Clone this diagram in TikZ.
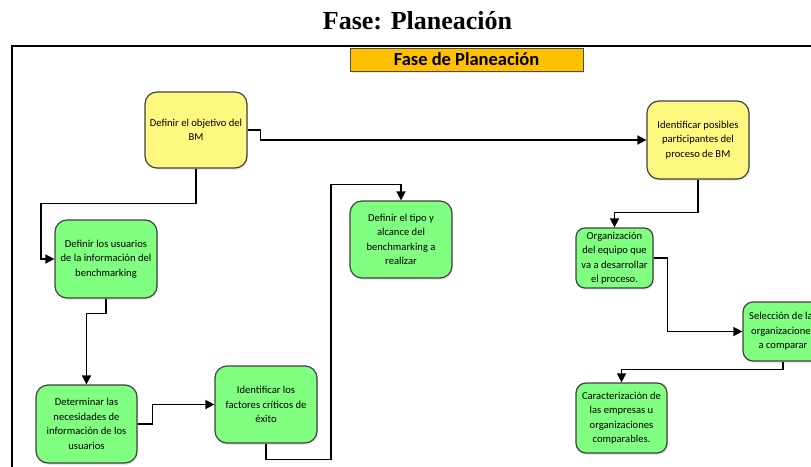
\documentclass[tikz,border=0pt]{standalone}
\usepackage{fontspec}
\setmainfont{Carlito}
\newfontfamily\titlefont{Liberation Serif}
\usetikzlibrary{arrows.meta,shadows}
\begin{document}
\begin{tikzpicture}[x=1pt,y=-1pt,
  box/.style={draw=black!75, line width=1.2pt, rounded corners=12pt, align=center,
    inner sep=0pt, font=\fontsize{10.6}{14.5}\selectfont,
    drop shadow={shadow xshift=1pt, shadow yshift=-2pt, opacity=0.25, fill=gray!70}},
  ybox/.style={box, fill=yellow!50},
  gbox/.style={box, fill=green!50},
  conn/.style={line width=1.5pt, -{Triangle[length=9pt,width=9pt]}}]
\useasboundingbox (0,0) rectangle (811,466);
% title
\node[font=\titlefont\bfseries\fontsize{26}{30}\selectfont, anchor=base] (title) at (417.5,29) {Fase: Planeación};
% frame
\draw[line width=2pt] (11.5,470) -- (11.5,45.5) -- (815,45.5);
% header box
\node[draw=black!70, fill={rgb,255:red,255;green,192;blue,0}, minimum width=233pt, minimum height=23pt,
  inner sep=0pt, font=\bfseries\fontsize{18.5}{20}\selectfont,
  drop shadow={shadow xshift=1pt, shadow yshift=-2pt, opacity=0.25, fill=gray!70}] (hdr) at (466.5,59.5) {Fase de Planeación};
% nodes
\node[ybox, minimum width=102pt, minimum height=76pt] (obj) at (196,130) {Definir el objetivo del\\BM};
\node[ybox, minimum width=102pt, minimum height=78pt] (ident) at (698,140) {Identificar posibles\\participantes del\\proceso de BM};
\node[gbox, minimum width=102pt, minimum height=78pt] (usu) at (106,259) {Definir los usuarios\\de la información del\\benchmarking};
\node[gbox, minimum width=102pt, minimum height=77pt] (tipo) at (401,239.5) {Definir el tipo y\\alcance del\\benchmarking a\\realizar};
\node[gbox, minimum width=101pt, minimum height=78pt] (det) at (86.5,424) {Determinar las\\necesidades de\\información de los\\usuarios};
\node[gbox, minimum width=102pt, minimum height=77pt] (fac) at (266,404.5) {Identificar los\\factores críticos de\\éxito};
\node[gbox, rounded corners=9pt, minimum width=77pt, minimum height=60pt] (org) at (614.5,258) {Organización\\del equipo que\\va a desarrollar\\el proceso.};
\node[gbox, rounded corners=10pt, minimum width=80pt, minimum height=59pt] (sel) at (783,331.5) {Selección de las\\organizaciones\\a comparar};
\node[gbox, rounded corners=10pt, minimum width=91pt, minimum height=70pt] (car) at (621.5,418) {Caracterización de\\las empresas u\\organizaciones\\comparables.};
% connectors
\draw[conn] (obj.east) -- ++(13,0) |- (ident.west);
\draw[conn] (obj.south) -- ++(0,35) -- ++(-155,0) |- (usu.west);
\draw[conn] (usu.south) -- ++(0,15) -| (det.north);
\draw[conn] (det.east) -- ++(15,0) |- (fac.west);
\draw[conn] (fac.south) -- ++(0,16) -- ++(65,0) -- ++(0,-275) -| (tipo.north);
\draw[conn] (ident.south) -- ++(0,33) -| (org.north);
\draw[conn] (org.east) -- ++(14,0) |- (sel.west);
\draw[conn] (sel.south) -- ++(0,8) -| (car.north);
\end{tikzpicture}
\end{document}
